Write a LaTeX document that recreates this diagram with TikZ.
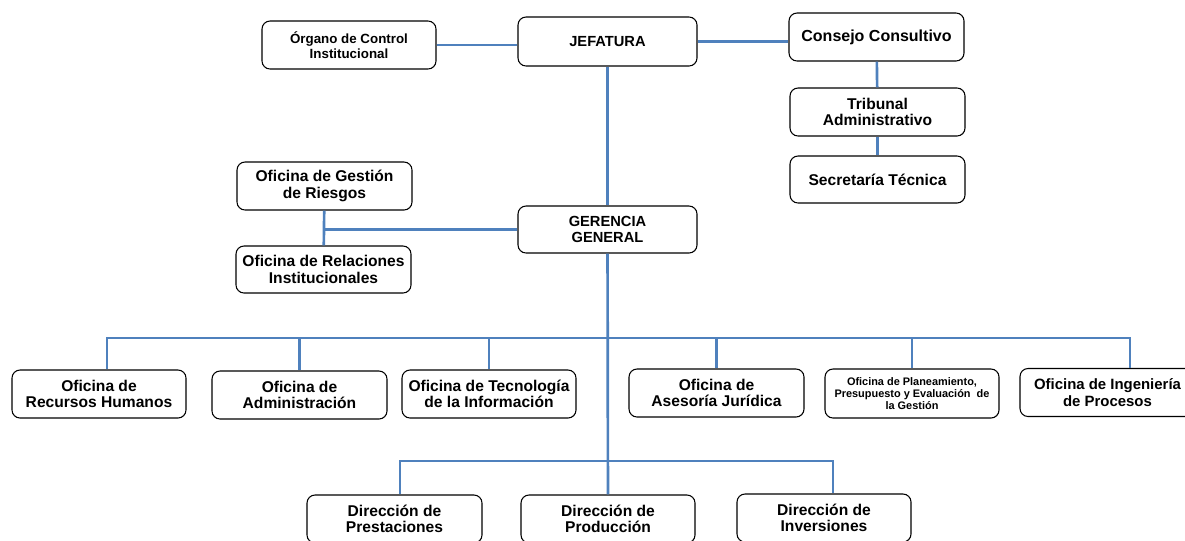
\documentclass[tikz,border=0pt]{standalone}
\usepackage{fontspec}
\setmainfont{Liberation Sans}
\usetikzlibrary{positioning}
\definecolor{linea}{RGB}{79,129,189}

\begin{document}
\begin{tikzpicture}[x=0.75pt,y=-0.75pt]
    \useasboundingbox (0,0) rectangle (1185,540);

    \tikzstyle{caja} = [draw=black, line width=0.8pt, rounded corners=6pt, minimum width=131.25pt, minimum height=36pt, inner sep=1pt, align=center, font=\bfseries\fontsize{11.7}{12.5}\selectfont]
    \tikzstyle{enlace} = [draw=linea, line width=2pt]

    % alta direccion
    \node[caja, minimum width=130.5pt, font=\bfseries\fontsize{10}{11.2}\selectfont] (org) at (349,45) {Órgano de Control\\Institucional};
    \node[caja, minimum width=134.25pt, minimum height=36.75pt, font=\bfseries\fontsize{11}{12}\selectfont] (jef) at (607.5,41.5) {JEFATURA};
    \node[caja, font=\bfseries\fontsize{12}{13}\selectfont] (cons) at (876.5,37) {Consejo Consultivo};
    \node[caja] (trib) at (877.5,112) {Tribunal\\Administrativo};
    \node[caja, minimum height=35.25pt] (sec) at (877.5,179.5) {Secretaría Técnica};

    \node[caja] (riesg) at (324.5,186) {Oficina de Gestión\\de Riesgos};
    \node[caja, minimum height=35.25pt] (relac) at (323.5,269.5) {Oficina de Relaciones\\Institucionales};
    \node[caja, minimum width=134.25pt, minimum height=35.25pt, font=\bfseries\fontsize{11}{12.5}\selectfont] (ger) at (607.5,229.5) {GERENCIA\\GENERAL};

    % oficinas
    \node[caja, minimum width=130.5pt] (rh) at (99,394) {Oficina de\\Recursos Humanos};
    \node[caja] (adm) at (299.5,395) {Oficina de\\Administración};
    \node[caja, minimum width=130.5pt] (tec) at (489,394) {Oficina de Tecnología\\de la Información};
    \node[caja] (ase) at (716.5,393) {Oficina de\\Asesoría Jurídica};
    \node[caja, minimum width=130.5pt, minimum height=36.75pt, font=\bfseries\fontsize{8.2}{9.2}\selectfont] (pla) at (912,393.5) {Oficina de Planeamiento,\\Presupuesto y Evaluación~ de\\la Gestión};
    \node[caja, font=\bfseries\fontsize{11.2}{12.5}\selectfont] (ing) at (1107.5,392.5) {Oficina de Ingeniería\\de Procesos};

    % direcciones
    \node[caja] (pre) at (394.5,519) {Dirección de\\Prestaciones};
    \node[caja, minimum width=130.5pt] (pro) at (608,519) {Dirección de\\Producción};
    \node[caja, minimum width=130.5pt] (inv) at (824,518) {Dirección de\\Inversiones};

    \draw[enlace] (org.east) -- (org.east -| jef.west);
    \draw[enlace] (jef.east) -- (jef.east -| cons.west);
    \draw[enlace] (cons) -- (trib);
    \draw[enlace] (trib) -- (sec);
    \draw[enlace] (jef) -- (ger);
    \draw[enlace] (riesg) -- (relac);
    \draw[enlace] (ger.west) -- (ger.west -| riesg.south);
    \draw[enlace] (ger) -- (pro);

    \coordinate (bus) at (605,338);
    \coordinate (sub) at (605,461);
    \draw[enlace] ([xshift=6pt]rh.north) -- ([xshift=6pt]rh.north |- bus) -- ([xshift=16.9pt]ing.north |- bus) -- ([xshift=16.9pt]ing.north);
    \foreach \n in {adm,tec,ase,pla}
        \draw[enlace] (\n.north) -- (\n.north |- bus);
    \draw[enlace] ([xshift=4pt]pre.north) -- ([xshift=4pt]pre.north |- sub) -- ([xshift=6.75pt]inv.north |- sub) -- ([xshift=6.75pt]inv.north);
\end{tikzpicture}
\end{document}
